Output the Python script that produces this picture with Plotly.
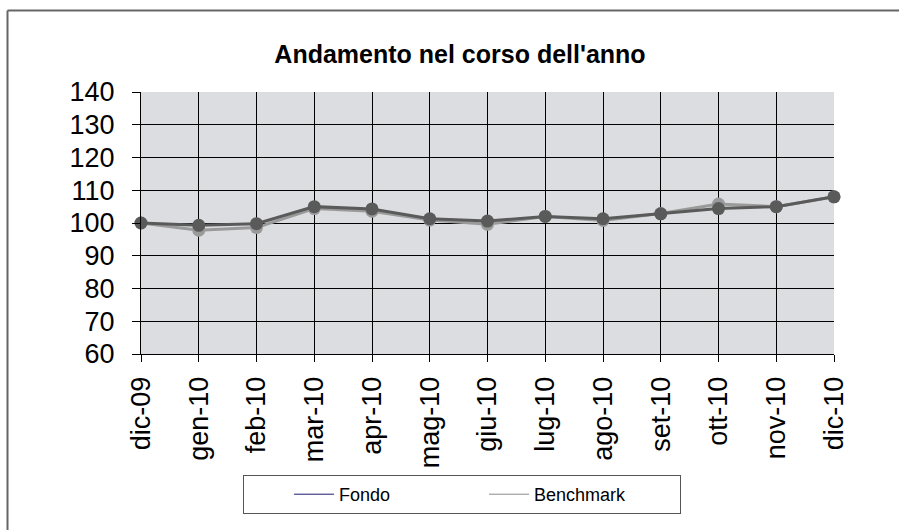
import plotly.graph_objects as go

categories = ["dic-09", "gen-10", "feb-10", "mar-10", "apr-10", "mag-10", "giu-10",
              "lug-10", "ago-10", "set-10", "ott-10", "nov-10", "dic-10"]
fondo = [100, 99.3, 99.8, 105, 104.3, 101.3, 100.6, 102, 101.3, 102.8, 104.4, 105, 108]
benchmark = [100, 97.8, 98.6, 104.4, 103.6, 100.9, 99.6, 102, 100.8, 102.9, 105.8, 105, 108]
y_ticks = [60, 70, 80, 90, 100, 110, 120, 130, 140]

W, H = 899, 530
L, R, T, B = 141, 834, 92, 354

def px_x(p):
    return (p - L) / (R - L)

def px_y(p):
    return (B - p) / (B - T)

fig = go.Figure()
fig.add_trace(go.Scatter(x=categories, y=benchmark, mode="lines+markers",
                         line=dict(color="#9a9a9a", width=3),
                         marker=dict(color="#9a9a9a", size=13),
                         showlegend=False, cliponaxis=False))
fig.add_trace(go.Scatter(x=categories, y=fondo, mode="lines+markers",
                         line=dict(color="#5a5a5a", width=3),
                         marker=dict(color="#5a5a5a", size=13),
                         showlegend=False, cliponaxis=False))
# legend-only entries
fig.add_trace(go.Scatter(x=[None], y=[None], mode="lines", name="Fondo",
                         line=dict(color="#1c1c6e", width=1)))
fig.add_trace(go.Scatter(x=[None], y=[None], mode="lines", name="Benchmark",
                         line=dict(color="#8c8c8c", width=1)))

fig.update_layout(
    width=W, height=H,
    margin=dict(l=L, r=W - R, t=T, b=H - B),
    paper_bgcolor="white",
    plot_bgcolor="#dcdde0",
    font=dict(family="Arial, Liberation Sans, sans-serif", color="black"),
    title=dict(text="<b>Andamento nel corso dell'anno</b>", x=460 / W,
               xanchor="center", y=1 - 54 / H, yanchor="middle", yref="container",
               font=dict(size=25, color="black")),
    xaxis=dict(type="category", range=[0, len(categories) - 1],
               showgrid=True, gridcolor="black", gridwidth=1,
               showline=True, linecolor="black", linewidth=1,
               ticks="outside", ticklen=7, tickcolor="black",
               tickangle=-90, tickfont=dict(size=27), ticklabelstandoff=4,
               zeroline=False, fixedrange=True),
    yaxis=dict(range=[60, 140], tickvals=y_ticks,
               showgrid=True, gridcolor="black", gridwidth=1,
               showline=True, linecolor="black", linewidth=1,
               ticks="outside", ticklen=8, tickcolor="black",
               tickfont=dict(size=27), ticklabelstandoff=12,
               zeroline=False, fixedrange=True),
    legend=dict(orientation="h", x=px_x(243), xanchor="left",
                y=px_y(475), yanchor="top",
                bordercolor="#555555", borderwidth=1, bgcolor="white",
                font=dict(size=18), entrywidth=140, entrywidthmode="pixels",
                itemwidth=40,
                title=dict(text="&nbsp;" * 7, side="left", font=dict(size=18))),
    shapes=[
        dict(type="line", xref="paper", yref="paper",
             x0=px_x(7.5), x1=px_x(899), y0=px_y(10.5), y1=px_y(10.5),
             line=dict(color="#666666", width=2), layer="below"),
        dict(type="line", xref="paper", yref="paper",
             x0=px_x(7.5), x1=px_x(7.5), y0=px_y(10.5), y1=px_y(530),
             line=dict(color="#666666", width=2), layer="below"),
    ],
)

fig.write_html("out.html", config={"displayModeBar": False},
               post_script="document.body.style.margin='0';document.body.style.overflow='hidden';")
